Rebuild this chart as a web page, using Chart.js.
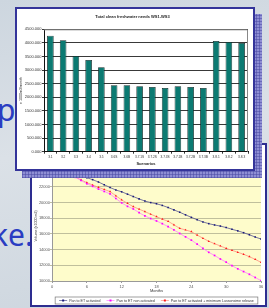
<!DOCTYPE html>
<html>
<head>
<meta charset="utf-8">
<script src="https://cdn.jsdelivr.net/npm/chart.js@4.4.1/dist/chart.umd.min.js"></script>
<style>
  html, body { margin: 0; padding: 0; }
  body {
    width: 269px; height: 308px; overflow: hidden; position: relative;
    background: linear-gradient(170deg, #cdd6df 0%, #dbe1e7 45%, #ccd5de 100%);
  }
  .slide-text { position: absolute; font-family: "Noto Sans", sans-serif; font-size: 30px; line-height: 30px; color: #2a3dc2; }
  #frameLine { position: absolute; left: 30px; top: 143px; width: 237px; height: 164px; box-sizing: border-box; border: 2px solid #2d2d90; background: #fff; }
  #shadow {
    position: absolute; left: 22px; top: 14px; width: 240px; height: 164px;
    background-color: #8e8ed4;
    background-image:
      repeating-linear-gradient(0deg, rgba(70,70,160,.5) 0 1px, transparent 1px 3px),
      repeating-linear-gradient(90deg, rgba(70,70,160,.5) 0 1px, transparent 1px 3px);
  }
  #frameBar { position: absolute; left: 15px; top: 7px; width: 240px; height: 164px; box-sizing: border-box; border: 2px solid #34349a; background: #fff; }
  canvas { position: absolute; }
</style>
</head>
<body>
<div class="slide-text" style="left:-3px; top:95px;">p</div>
<div class="slide-text" style="left:-8px; top:220px;">ke.</div>

<div id="frameLine"></div>
<canvas id="lineChart" width="233" height="160" style="left:32px; top:145px; width:233px; height:160px;"></canvas>
<div id="shadow"></div>
<div id="frameBar"></div>
<canvas id="barChart" width="236" height="160" style="left:17px; top:9px; width:236px; height:160px;"></canvas>

<script>
// bar chart data
const scenarios = ['3.1', '3.2', '3.3', '3.4', '3.5', '3.6S', '3.6B', '3.7.1S', '3.7.2S', '3.7.3S',
                   '3.7.1B', '3.7.2B', '3.7.3B', '3.8.1', '3.8.2', '3.8.3'];
const freshwaterNeeds = [4265, 4096, 3518, 3371, 3103, 2441, 2441, 2404, 2379, 2342,
                         2404, 2379, 2342, 4070, 4033, 4000];

// line chart data (monthly volumes)
const months = [0, 1, 2, 3, 4, 5, 6, 7, 8, 9, 10, 11, 12, 13, 14, 15, 16, 17, 18,
                19, 20, 21, 22, 23, 24, 25, 26, 27, 28, 29, 30, 31, 32, 33, 34, 35, 36];
const volActivated = [24300, 24100, 23900, 23700, 23500, 23330, 23150, 22900, 22600, 22250,
                      21900, 21580, 21350, 21050, 20750, 20450, 20170, 19980, 19830, 19620,
                      19350, 19050, 18750, 18420, 18100, 17800, 17520, 17300, 17130, 16990,
                      16800, 16580, 16380, 16150, 15880, 15600, 15340];
const volNonActivated = [24300, 24100, 23950, 23620, 23200, 22800, 22380, 22050, 21700, 21400,
                         21080, 20500, 19950, 19500, 19170, 18700, 18280, 17950, 17640, 17300,
                         16920, 16500, 16050, 15620, 15200, 14700, 14150, 13650, 13250, 12800,
                         12400, 11950, 11550, 11200, 10850, 10450, 10040];
const volMinRelease = [24300, 24100, 23950, 23620, 23250, 22870, 22520, 22220, 21920, 21650,
                       21380, 20850, 20320, 19880, 19460, 19150, 18830, 18500, 18190, 17870,
                       17600, 17150, 16700, 16500, 16280, 15850, 15440, 15060, 14750, 14460,
                       14150, 13900, 13660, 13400, 13100, 12750, 12380];
const seriesNames = ['Pan to ET activated', 'Pan to ET non activated',
                     'Pan to ET activated + minimum Lussonsime release'];

const smallFont = { family: 'Liberation Sans', size: 4 };

// plot area background + border
const plotBox = {
  id: 'plotBox',
  beforeDraw(chart, args, opts) {
    const a = chart.chartArea, ctx = chart.ctx;
    ctx.save();
    if (opts.fill) {
      ctx.fillStyle = opts.fill;
      ctx.fillRect(a.left, a.top, a.right - a.left, a.bottom - a.top);
    }
    ctx.restore();
  },
  afterDatasetsDraw(chart, args, opts) {
    if (!opts.stroke) return;
    const a = chart.chartArea, ctx = chart.ctx;
    ctx.save();
    ctx.strokeStyle = opts.stroke;
    ctx.lineWidth = 1;
    ctx.beginPath();
    ctx.moveTo(a.left, a.top + 0.5);
    ctx.lineTo(a.right - 0.5, a.top + 0.5);
    ctx.lineTo(a.right - 0.5, a.bottom);
    ctx.stroke();
    ctx.restore();
  }
};

// Excel-like legend box below the line chart
const boxLegend = {
  id: 'boxLegend',
  afterDraw(chart, args, opts) {
    const ctx = chart.ctx;
    ctx.save();
    ctx.font = '3.6px "Liberation Sans"';
    const sets = chart.data.datasets;
    const widths = sets.map(d => 10 + ctx.measureText(d.label).width);
    const gap = 6;
    const total = widths.reduce((s, w) => s + w, 0) + gap * (sets.length - 1) + 8;
    const cx = (chart.chartArea.left + chart.chartArea.right) / 2;
    let x = cx - total / 2;
    const y = opts.y, h = 7;
    ctx.fillStyle = '#fff';
    ctx.fillRect(x, y, total, h);
    ctx.strokeStyle = '#777';
    ctx.lineWidth = 0.7;
    ctx.strokeRect(x, y, total, h);
    x += 4;
    const my = y + h / 2;
    sets.forEach((d, i) => {
      ctx.strokeStyle = d.borderColor;
      ctx.lineWidth = 0.7;
      ctx.beginPath();
      ctx.moveTo(x, my);
      ctx.lineTo(x + 8, my);
      ctx.stroke();
      ctx.fillStyle = d.pointBackgroundColor;
      ctx.fillRect(x + 3, my - 1, 2, 2);
      ctx.fillStyle = '#333';
      ctx.textBaseline = 'middle';
      ctx.fillText(d.label, x + 10, my);
      x += widths[i] + gap;
    });
    ctx.restore();
  }
};

new Chart(document.getElementById('barChart').getContext('2d'), {
  type: 'bar',
  data: {
    labels: scenarios,
    datasets: [{
      data: freshwaterNeeds,
      backgroundColor: '#0b7a72',
      borderColor: '#102a28',
      borderWidth: 0.8,
      barPercentage: 0.52,
      categoryPercentage: 1
    }]
  },
  options: {
    responsive: false,
    animation: false,
    devicePixelRatio: 1,
    layout: { padding: { top: 0, right: 5, bottom: 0, left: 0 } },
    plugins: {
      legend: { display: false },
      tooltip: { enabled: false },
      title: {
        display: true,
        text: 'Total clean freshwater needs WS1-WS3',
        color: '#222',
        font: { family: 'Liberation Sans', size: 4, weight: 'bold' },
        padding: { top: 5, bottom: 10.5 }
      },
      plotBox: { stroke: '#888' }
    },
    scales: {
      x: {
        afterFit(scale) { scale.height = 17.3; },
        grid: { display: true, drawOnChartArea: false, tickLength: 2, color: '#333' },
        border: { color: '#111', width: 1 },
        ticks: { color: '#333', font: { family: 'Liberation Sans', size: 3.2 },
                 padding: 1.5, autoSkip: false, maxRotation: 0 },
        title: { display: true, text: 'Scenarios', color: '#222',
                 font: { family: 'Liberation Sans', size: 4, weight: 'bold' },
                 padding: { top: 0, bottom: 2.6 } }
      },
      y: {
        min: 0, max: 4500,
        afterFit(scale) { scale.width = 27; },
        grid: { color: '#222', lineWidth: 0.9, tickLength: 2 },
        border: { color: '#111', width: 1 },
        ticks: { stepSize: 500, color: '#333', font: smallFont, padding: 0.5,
                 callback: v => v.toFixed(3) },
        title: { display: true, text: 'x 1000m3/month', color: '#222',
                 font: { family: 'Liberation Sans', size: 3.6 },
                 padding: { top: 1.6, bottom: 0 } }
      }
    }
  },
  plugins: [plotBox]
});

function lineSet(label, values, line, marker, style, radius) {
  return {
    label: label,
    data: values,
    borderColor: line,
    borderWidth: 0.8,
    pointStyle: style,
    pointRadius: radius,
    pointBackgroundColor: marker,
    pointBorderColor: marker,
    pointBorderWidth: 0,
    tension: 0
  };
}

new Chart(document.getElementById('lineChart').getContext('2d'), {
  type: 'line',
  data: {
    labels: months,
    datasets: [
      lineSet(seriesNames[0], volActivated, '#55558f', '#1a1a7a', 'rect', 1.1),
      lineSet(seriesNames[1], volNonActivated, '#ff80ff', '#ff00ff', 'rect', 1.2),
      lineSet(seriesNames[2], volMinRelease, '#ff9080', '#ff1a1a', 'triangle', 1.3)
    ]
  },
  options: {
    responsive: false,
    animation: false,
    devicePixelRatio: 1,
    layout: { padding: { top: 26, right: 1, bottom: 0, left: 0 } },
    plugins: {
      legend: { display: false },
      tooltip: { enabled: false },
      plotBox: { fill: '#fefccb' },
      boxLegend: { y: 152 }
    },
    scales: {
      x: {
        type: 'linear', min: 0, max: 36,
        afterFit(scale) { scale.height = 24; },
        grid: { display: true, drawOnChartArea: false, tickLength: 2, color: '#999' },
        border: { color: '#999', width: 1 },
        ticks: { stepSize: 6, color: '#555', font: smallFont, padding: 1 },
        title: { display: true, text: 'Months', color: '#333',
                 font: { family: 'Liberation Sans', size: 4 },
                 padding: { top: 0, bottom: 11.6 } }
      },
      y: {
        min: 10000, max: 24000,
        afterFit(scale) { scale.width = 20; },
        grid: { color: '#b9b896', lineWidth: 0.9, tickLength: 2 },
        border: { color: '#999', width: 1 },
        ticks: { stepSize: 2000, color: '#555', font: smallFont, padding: 0,
                 callback: v => String(v) },
        title: { display: true, text: 'Volume (x1000 m3)', color: '#333',
                 font: { family: 'Liberation Sans', size: 3.6 },
                 padding: { top: 1.6, bottom: 0 } }
      }
    }
  },
  plugins: [plotBox, boxLegend]
});
</script>
</body>
</html>
